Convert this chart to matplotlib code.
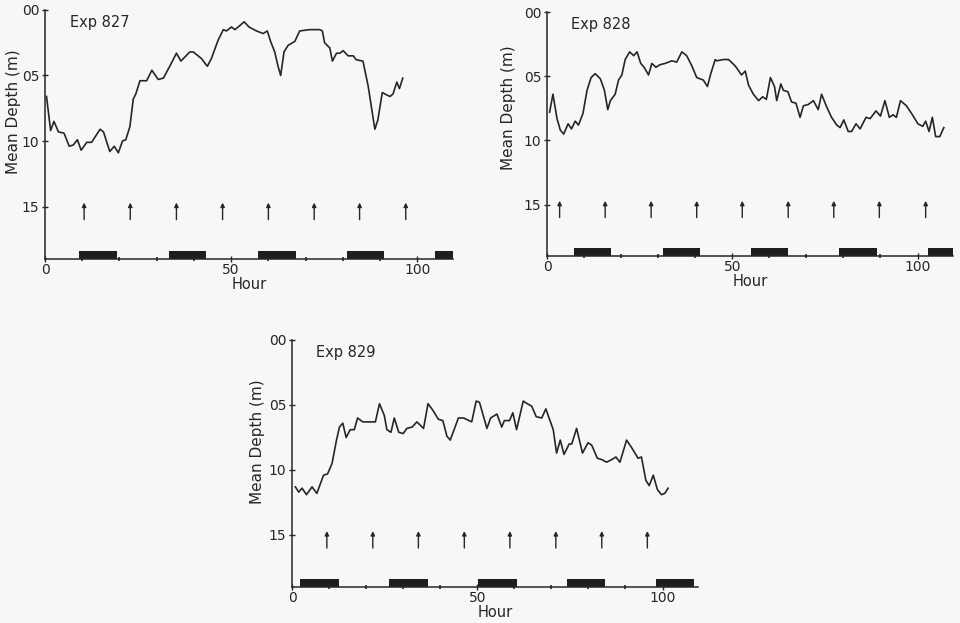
import numpy as np
import matplotlib.pyplot as plt

# Exp 827 mean depth (m) vs hour
hours_827 = [0.4, 1.5, 2.4, 3.6, 5.1, 6.5, 7.6, 8.7, 9.7, 11.2, 12.5, 14.8, 15.7, 17.4, 18.6,
             19.7, 20.8, 21.7, 22.8, 23.7, 24.4, 25.5, 27.3, 28.7, 30.4, 31.8, 33.5, 35.3,
             36.5, 38.9, 39.8, 42.0, 43.6, 44.7, 46.5, 47.9, 48.7, 50.1, 51.0, 52.3, 53.5,
             54.8, 56.8, 58.6, 59.7, 60.6, 61.7, 62.6, 63.3, 64.2, 65.3, 67.1, 68.4, 71.1,
             73.8, 74.5, 75.1, 76.5, 77.2, 78.3, 79.2, 80.1, 81.4, 82.8, 83.6, 85.4, 86.8,
             88.6, 89.4, 90.6, 91.9, 92.7, 93.5, 94.5, 95.2, 96.1]
depth_827 = [0.66, 0.92, 0.85, 0.93, 0.94, 1.04, 1.03, 0.99, 1.07, 1.01, 1.01, 0.91, 0.93, 1.08, 1.04,
             1.09, 1.00, 0.99, 0.89, 0.68, 0.64, 0.54, 0.54, 0.46, 0.53, 0.52, 0.43, 0.33,
             0.39, 0.32, 0.32, 0.37, 0.43, 0.37, 0.23, 0.15, 0.16, 0.13, 0.15, 0.12, 0.09,
             0.13, 0.16, 0.18, 0.16, 0.24, 0.32, 0.43, 0.50, 0.32, 0.27, 0.24, 0.16, 0.15,
             0.15, 0.16, 0.25, 0.29, 0.39, 0.33, 0.33, 0.31, 0.35, 0.35, 0.38, 0.39, 0.58,
             0.91, 0.84, 0.63, 0.65, 0.66, 0.64, 0.55, 0.60, 0.52]

# Exp 828
hours_828 = [0.7, 1.6, 2.7, 3.6, 4.5, 5.7, 6.6, 7.6, 8.5, 9.7, 10.8, 11.9, 13.0, 14.4, 15.5,
             16.4, 17.1, 18.4, 19.3, 20.2, 21.1, 22.3, 23.4, 24.3, 25.3, 26.2, 27.4, 28.3,
             29.4, 30.5, 31.9, 33.7, 35.0, 36.4, 37.7, 39.1, 40.4, 42.2, 43.3, 44.2, 45.4,
             45.8, 47.6, 49.0, 50.8, 52.5, 53.5, 54.4, 55.7, 57.1, 58.2, 59.2, 60.3, 61.4,
             62.0, 63.1, 63.8, 65.0, 66.0, 67.2, 68.3, 69.2, 70.5, 71.9, 73.2, 74.1, 75.5,
             76.8, 78.2, 79.1, 80.1, 81.3, 82.2, 83.4, 84.5, 86.1, 87.2, 88.8, 90.0, 91.2,
             92.4, 93.4, 94.3, 95.4, 97.0, 98.4, 100.1, 101.4, 102.2, 103.1, 104.0, 104.9,
             106.0, 107.1]
depth_828 = [0.78, 0.64, 0.83, 0.92, 0.95, 0.87, 0.91, 0.85, 0.88, 0.79, 0.61, 0.51, 0.48, 0.52, 0.61,
             0.76, 0.69, 0.64, 0.53, 0.49, 0.37, 0.31, 0.34, 0.31, 0.40, 0.43, 0.49, 0.40,
             0.43, 0.41, 0.40, 0.38, 0.39, 0.31, 0.34, 0.42, 0.51, 0.53, 0.58, 0.48, 0.37,
             0.38, 0.37, 0.37, 0.42, 0.49, 0.46, 0.57, 0.64, 0.69, 0.66, 0.68, 0.51, 0.58,
             0.69, 0.56, 0.61, 0.62, 0.70, 0.71, 0.82, 0.73, 0.72, 0.69, 0.76, 0.64, 0.74,
             0.82, 0.88, 0.90, 0.84, 0.93, 0.93, 0.87, 0.91, 0.82, 0.83, 0.77, 0.81, 0.69,
             0.82, 0.80, 0.82, 0.69, 0.73, 0.79, 0.87, 0.89, 0.85, 0.93, 0.82, 0.97,
             0.97, 0.90]

# Exp 829
hours_829 = [0.9, 1.8, 2.7, 3.9, 5.4, 6.7, 8.5, 9.6, 10.8, 12.0, 12.8, 13.7, 14.6, 15.7, 16.8,
             17.7, 19.1, 20.7, 22.5, 23.6, 24.9, 25.6, 26.7, 27.6, 28.8, 30.0, 31.0, 32.4,
             33.7, 35.5, 36.7, 38.0, 39.5, 40.7, 41.8, 42.7, 44.9, 46.3, 48.5, 49.7, 50.6,
             51.5, 52.6, 53.6, 55.3, 56.6, 57.3, 58.7, 59.6, 60.6, 62.4, 63.5, 64.7, 65.9,
             67.4, 68.5, 70.5, 71.4, 72.4, 73.4, 74.8, 75.5, 76.8, 78.4, 79.9, 80.9, 82.4,
             83.6, 84.9, 86.3, 87.4, 88.5, 90.3, 91.7, 93.4, 94.3, 95.5, 96.4, 97.5, 98.6,
             99.7, 100.6, 101.5]
depth_829 = [1.13, 1.17, 1.14, 1.19, 1.13, 1.18, 1.04, 1.03, 0.95, 0.77, 0.67, 0.64, 0.75, 0.69, 0.69,
             0.60, 0.63, 0.63, 0.63, 0.49, 0.58, 0.69, 0.71, 0.60, 0.71, 0.72, 0.68, 0.67,
             0.63, 0.68, 0.49, 0.54, 0.61, 0.62, 0.74, 0.77, 0.60, 0.60, 0.63, 0.47, 0.48,
             0.57, 0.68, 0.60, 0.57, 0.67, 0.62, 0.62, 0.56, 0.69, 0.47, 0.49, 0.51, 0.59,
             0.60, 0.53, 0.69, 0.87, 0.77, 0.88, 0.80, 0.80, 0.68, 0.87, 0.79, 0.81, 0.91,
             0.92, 0.94, 0.92, 0.90, 0.94, 0.77, 0.83, 0.91, 0.90, 1.08, 1.12, 1.04, 1.15,
             1.19, 1.18, 1.14]

# high tide arrows (hour)
tide_827 = [10.5, 22.9, 35.3, 47.7, 60.0, 72.3, 84.5, 96.9]
tide_828 = [3.4, 15.7, 28.1, 40.4, 52.7, 65.1, 77.4, 89.7, 102.2]
tide_829 = [9.4, 21.8, 34.1, 46.5, 58.8, 71.2, 83.6, 95.9]

# dark periods (start hour, end hour)
dark_start_827 = [9.1, 33.3, 57.1, 81.0, 104.8]
dark_end_827 = [19.4, 43.3, 67.3, 91.1, 109.6]
dark_start_828 = [7.2, 31.2, 55.1, 78.9, 102.9]
dark_end_828 = [17.3, 41.3, 65.1, 89.1, 109.6]
dark_start_829 = [2.2, 26.3, 50.3, 74.3, 98.2]
dark_end_829 = [12.6, 36.6, 60.6, 84.5, 108.4]

ytick_vals = [0.0, 0.5, 1.0, 1.5]
ytick_text = ["00", "05", "10", "15"]
xtick_vals = [0, 50, 100]

bg = '#f8f7f5'
ink = '#262626'


def panel(ax, hours, depth, tides, d0, d1, title, ylab_x, ylab_y):
    ax.set_facecolor(bg)
    ax.plot(hours, depth, color=ink, lw=1.2)
    for h in tides:
        ax.annotate('', xy=(h, 1.47), xytext=(h, 1.60),
                    arrowprops=dict(arrowstyle='-|>', color=ink, lw=1.0,
                                    mutation_scale=6, shrinkA=0, shrinkB=0))
    ax.broken_barh([(s, e - s) for s, e in zip(d0, d1)], (1.84, 0.06),
                   facecolor='#1e1e1e', edgecolor='none')
    ax.set_xlim(0, 109.6)
    ax.set_ylim(1.9, 0.0)
    for s in ['top', 'right']:
        ax.spines[s].set_visible(False)
    for s in ['left', 'bottom']:
        ax.spines[s].set_color(ink)
        ax.spines[s].set_linewidth(1.1)
    ax.set_yticks(ytick_vals)
    ax.set_yticklabels(ytick_text)
    ax.set_xticks(xtick_vals)
    ax.set_xticks(np.arange(10, 110, 10), minor=True)
    ax.tick_params(axis='y', direction='inout', length=4, width=1, colors=ink,
                   labelsize=10, pad=2)
    ax.tick_params(axis='x', which='major', direction='inout', length=4, width=1,
                   colors=ink, labelsize=10, pad=1)
    ax.tick_params(axis='x', which='minor', direction='inout', length=3, width=1.2,
                   colors=ink)
    ax.set_xlabel('Hour', fontsize=10.5, color=ink, labelpad=0)
    ax.set_ylabel('Mean Depth (m)', fontsize=11, color=ink)
    ax.yaxis.set_label_coords(ylab_x, ylab_y)
    ax.text(0.06, 0.95, title, transform=ax.transAxes, fontsize=10.5,
            color=ink, va='center', ha='left')


fig = plt.figure(figsize=(9.6, 6.23), dpi=100)
fig.patch.set_facecolor(bg)

ax1 = fig.add_axes([0.0469, 0.5843, 0.425, 0.3997])
ax2 = fig.add_axes([0.5698, 0.589, 0.423, 0.3917])
ax3 = fig.add_axes([0.3042, 0.0578, 0.423, 0.3965])

panel(ax1, hours_827, depth_827, tide_827, dark_start_827, dark_end_827, 'Exp 827', -0.06, 0.59)
panel(ax2, hours_828, depth_828, tide_828, dark_start_828, dark_end_828, 'Exp 828', -0.076, 0.61)
panel(ax3, hours_829, depth_829, tide_829, dark_start_829, dark_end_829, 'Exp 829', -0.066, 0.59)

fig.savefig('out.png', dpi=100, facecolor=bg)
